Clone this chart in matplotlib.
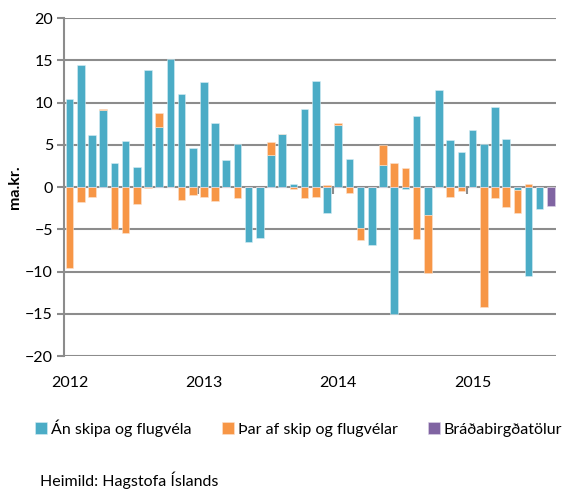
import matplotlib.pyplot as plt
import numpy as np

plt.rcParams['font.family'] = ['Lato', 'DejaVu Sans']

# monthly values, Jan 2012 - Aug 2015 (ma.kr.)
an_skipa = [10.4, 14.4, 6.2, 9.1, 2.9, 5.5, 2.4, 13.9, 7.1, 15.2, 11.0, 4.6,
            12.4, 7.6, 3.2, 5.1, -6.5, -6.0, 3.8, 6.3, 0.4, 9.3, 12.6, -3.1,
            7.4, 3.3, -4.8, -6.8, 2.6, -15.0, -0.2, 8.4, -3.3, 11.5, 5.6, 4.2,
            6.8, 5.1, 9.5, 5.7, -0.3, -10.5, -2.6, 0.0]
skip_flug = [-9.6, -1.7, -1.2, 0.1, -4.9, -5.4, -2.0, -0.1, 1.7, 0.0, -1.5, -0.9,
             -1.2, -1.6, 0.0, -1.3, 0.0, 0.0, 1.5, 0.05, -0.2, -1.3, -1.2, 0.3,
             0.2, -0.7, -1.5, 0.0, 2.4, 2.9, 2.3, -6.1, -6.8, 0.0, -1.2, -0.4,
             0.0, -14.2, -1.3, -2.4, -2.7, 0.4, 0.0, 0.0]
bradabirgda = [0.0] * 43 + [-2.2]
years = ['2012', '2013', '2014', '2015']

labels = ['Án skipa og flugvéla', 'Þar af skip og flugvélar', 'Bráðabirgðatölur']
colors = ['#4BACC6', '#F79646', '#8064A2']


def main():
    blue = np.array(an_skipa)
    orange = np.array(skip_flug)
    purple = np.array(bradabirgda)
    x = np.arange(len(blue))

    # excel style stacking: same sign stacks, opposite sign starts at zero
    orange_bottom = np.where(np.sign(orange) == np.sign(blue), blue, 0.0)

    fig = plt.figure(figsize=(5.69, 4.90), dpi=100)
    ax = fig.add_axes([0.1125, 0.273, 0.8655, 0.69])

    w = 0.68
    ax.bar(x, blue, width=w, color=colors[0], edgecolor='#d8eef4', linewidth=0.4, label=labels[0], zorder=3)
    ax.bar(x, orange, width=w, bottom=orange_bottom, color=colors[1], edgecolor='#fde3cf',
           linewidth=0.4, label=labels[1], zorder=3)
    ax.bar(x, purple, width=w, color=colors[2], edgecolor='#ddd4e8', linewidth=0.4, label=labels[2], zorder=3)

    ax.set_xlim(-0.5, len(x) - 0.5)
    ax.set_ylim(-20, 20)
    ax.set_yticks(np.arange(-20, 21, 5))
    ax.yaxis.grid(True, color='#8c8c8c', linewidth=1.5)
    ax.set_axisbelow(True)

    for side in ['top', 'right']:
        ax.spines[side].set_visible(False)
    ax.spines['left'].set_color('#8c8c8c')
    ax.spines['left'].set_linewidth(1.5)
    ax.tick_params(axis='y', length=5, width=1.5, color='#8c8c8c', labelsize=11.5, pad=3)

    # category axis sits at zero, ticks between years
    ax.spines['bottom'].set_position(('data', 0))
    ax.spines['bottom'].set_visible(False)
    ax.set_xticks([11.5, 23.5, 35.5])
    ax.set_xticklabels([])
    ax.tick_params(axis='x', length=5, width=1.5, color='#8c8c8c')

    sec = ax.secondary_xaxis('bottom')
    sec.set_xticks([0, 12, 24, 36])
    sec.set_xticklabels(years)
    sec.tick_params(length=0, labelsize=11.5, pad=14)
    sec.spines['bottom'].set_visible(False)

    ax.set_ylabel('ma.kr.', fontsize=11.5, fontweight='bold', labelpad=2)

    fig.legend(loc='center', bbox_to_anchor=(0.525, 0.127), ncol=3, frameon=False,
               fontsize=11.5, handlelength=0.75, handleheight=0.75, handletextpad=0.25,
               columnspacing=1.9)

    fig.text(0.07, 0.008, 'Heimild: Hagstofa Íslands', fontsize=11.5)

    fig.savefig('out.png', dpi=100)


if __name__ == '__main__':
    main()
